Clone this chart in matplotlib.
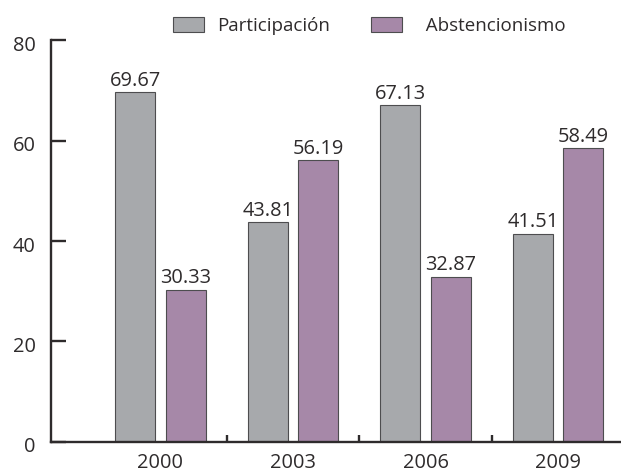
import numpy as np
import matplotlib
matplotlib.use("Agg")
import matplotlib.pyplot as plt
from matplotlib.patches import Patch
from matplotlib.transforms import ScaledTranslation

# data
years = ["2000", "2003", "2006", "2009"]
participacion = [69.67, 43.81, 67.13, 41.51]
abstencionismo = [30.33, 56.19, 32.87, 58.49]
yticks = [0, 20, 40, 60, 80]

gray = "#a7a9ac"
purple = "#a688a8"
edge = "#4d4d4f"
ink = "#2e2b2c"

plt.rcParams["font.family"] = ["Open Sans", "DejaVu Sans"]
plt.rcParams["text.color"] = ink

fig = plt.figure(figsize=(6.21, 4.69), dpi=100)
ax = fig.add_axes([51 / 621, 27.3 / 469, 570 / 621, 401.2 / 469])

x = np.arange(len(years))
w = 0.30
b1 = ax.bar(x - 0.19, participacion, w, color=gray, edgecolor=edge, linewidth=0.8)
b2 = ax.bar(x + 0.19, abstencionismo, w, color=purple, edgecolor=edge, linewidth=0.8)
ax.bar_label(b1, fmt="%.2f", padding=1, fontsize=14.4, color=ink)
ax.bar_label(b2, fmt="%.2f", padding=1, fontsize=14.4, color=ink)

ax.set_xlim(-0.826, 3.475)
ax.set_ylim(0, 80)
ax.set_yticks(yticks)

for s in ["top", "right"]:
    ax.spines[s].set_visible(False)
for s in ["left", "bottom"]:
    ax.spines[s].set_linewidth(1.7)
    ax.spines[s].set_color(ink)

ax.tick_params(axis="y", direction="in", length=11, width=1.7, pad=11,
               labelsize=14.4, colors=ink)
ax.set_xticks(x)
ax.set_xticklabels(years)
ax.tick_params(axis="x", which="major", length=0, pad=8, labelsize=14.4, colors=ink)
ax.set_xticks(x[:-1] + 0.5, minor=True)
ax.tick_params(axis="x", which="minor", direction="in", length=5, width=1.7, colors=ink)

# labels sit a little below their ticks in the original
for lab in ax.get_yticklabels():
    lab.set_transform(lab.get_transform() + ScaledTranslation(0, -3 / 100, fig.dpi_scale_trans))

handles = [Patch(facecolor=gray, edgecolor=edge, linewidth=0.8),
           Patch(facecolor=purple, edgecolor=edge, linewidth=0.8)]
fig.legend(handles, ["Participación", "  Abstencionismo"], ncol=2, frameon=False,
           loc="center left", bbox_to_anchor=(173 / 621, 1 - 26 / 469),
           fontsize=13.5, handlelength=1.65, handleheight=0.85, handletextpad=0.72,
           columnspacing=2.19, borderpad=0, borderaxespad=0)

fig.savefig("out.png", dpi=100)
